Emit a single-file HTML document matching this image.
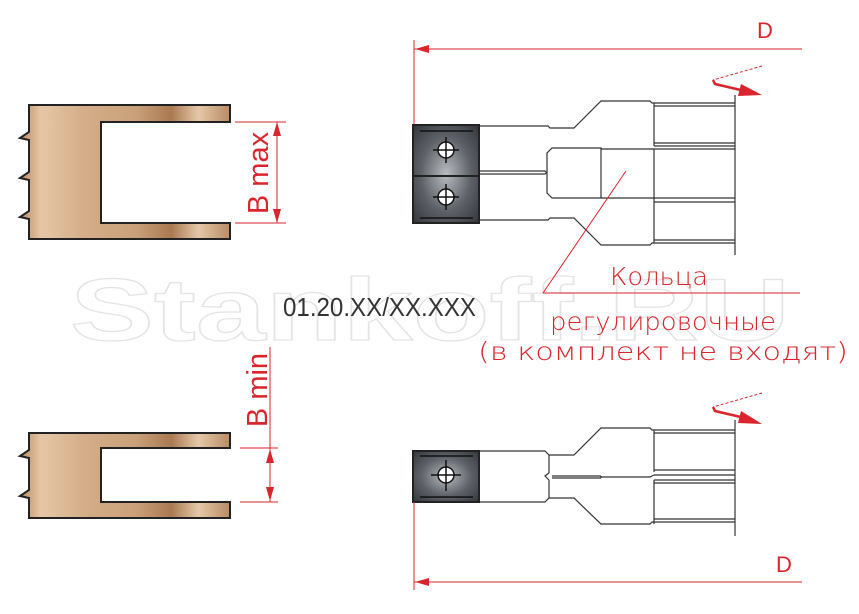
<!DOCTYPE html>
<html><head><meta charset="utf-8"><style>html,body{margin:0;padding:0;background:#fff}svg{display:block}</style></head>
<body>
<svg width="859" height="614" viewBox="0 0 859 614" xmlns="http://www.w3.org/2000/svg" font-family="Liberation Sans, DejaVu Sans, sans-serif">
<defs>
<linearGradient id="wood" x1="0" x2="1" y1="0" y2="0">
<stop offset="0" stop-color="#b98a62"/><stop offset="0.1" stop-color="#e6c7a6"/><stop offset="0.3" stop-color="#d4ae88"/><stop offset="0.55" stop-color="#c9a07a"/><stop offset="0.72" stop-color="#aa7a52"/><stop offset="0.85" stop-color="#e5c8a8"/><stop offset="1" stop-color="#b88b63"/>
</linearGradient>
<radialGradient id="ins" cx="0.5" cy="0.5" r="0.7">
<stop offset="0" stop-color="#b8bcc1"/><stop offset="0.55" stop-color="#5d6167"/><stop offset="1" stop-color="#33363b"/>
</radialGradient>
</defs>

<!-- watermark -->
<text x="70" y="340" font-size="88" font-weight="bold" fill="#fff" stroke="#e4e4e4" stroke-width="1.2" textLength="720" lengthAdjust="spacingAndGlyphs">Stankoff.RU</text>

<!-- top workpiece -->
<path d="M29,105 L230,105 L230,122 L101,122 L101,223 L230,223 L230,239 L29,239 L29,219 L20,217 L29,211 L29,180 L20,178 L29,172 L29,140 L20,138 L29,132 Z" fill="url(#wood)" stroke="#222" stroke-width="2"/>
<!-- B max -->
<g stroke="#d9252b" stroke-width="1" fill="none">
<line x1="235" y1="122" x2="286" y2="122"/><line x1="235" y1="223" x2="286" y2="223"/>
<line x1="277" y1="122" x2="277" y2="223"/>
</g>
<path d="M277,122 L273,136 L281,136 Z M277,223 L273,209 L281,209 Z" fill="#d9252b"/>
<text transform="translate(268,173) rotate(-90)" text-anchor="middle" font-size="29" fill="#d9252b">B max</text>

<!-- bottom workpiece -->
<path d="M29,433 L230,433 L230,448 L101,448 L101,502 L230,502 L230,518 L29,518 L29,498 L20,496 L29,490 L29,458 L20,456 L29,450 Z" fill="url(#wood)" stroke="#222" stroke-width="2"/>
<g stroke="#d9252b" stroke-width="1" fill="none">
<line x1="240" y1="448" x2="278" y2="448"/><line x1="240" y1="502" x2="278" y2="502"/>
<line x1="270" y1="347" x2="270" y2="502"/>
</g>
<path d="M270,449 L266,463 L274,463 Z M270,501 L266,487 L274,487 Z" fill="#d9252b"/>
<text transform="translate(267,390) rotate(-90)" text-anchor="middle" font-size="29" fill="#d9252b">B min</text>

<text x="283" y="316" font-size="26" fill="#333" textLength="193" lengthAdjust="spacingAndGlyphs">01.20.XX/XX.XXX</text>

<!-- top D -->
<g stroke="#d9252b" stroke-width="1" fill="none">
<line x1="414" y1="40" x2="414" y2="125"/><line x1="414" y1="49" x2="802" y2="49"/>
</g>
<path d="M415,49 L429,45 L429,53 Z" fill="#d9252b"/>
<text x="757" y="38" font-size="22" fill="#d9252b">D</text>

<!-- top cutter body -->
<g stroke="#333" stroke-width="1.2" fill="none">
<path d="M479,126 L548,126 L550,128 L574,128 L601,101 L650,101 L652,103 L735,103"/>
<line x1="654" y1="106" x2="735" y2="106"/>
<line x1="654" y1="103" x2="654" y2="146"/>
<line x1="654" y1="143" x2="735" y2="143"/><line x1="654" y1="146" x2="735" y2="146"/>
<path d="M479,171 L545,171 L547,173 M479,174 L545,174 L547,172"/>
<path d="M552,148 L601,148 L601,198 L552,198 L547,193 L547,153 Z"/>
<line x1="601" y1="149" x2="735" y2="149"/>
<line x1="654" y1="149" x2="654" y2="198"/>
<line x1="601" y1="198" x2="735" y2="198"/>
<line x1="654" y1="202" x2="735" y2="202"/>
<line x1="654" y1="198" x2="654" y2="243"/>
<path d="M479,220 L548,220 L550,218 L574,218 L601,245 L650,245 L652,243 L735,243"/>
<line x1="654" y1="240" x2="735" y2="240"/>
<line x1="735" y1="95" x2="735" y2="255"/>
</g>
<!-- top inserts -->
<rect x="413" y="125" width="66" height="98" fill="url(#ins)" stroke="#222" stroke-width="2"/>
<line x1="413" y1="176" x2="479" y2="176" stroke="#222" stroke-width="2"/>
<g stroke="#111" stroke-width="1.5">
<line x1="420" y1="131" x2="473" y2="131"/><line x1="420" y1="218" x2="473" y2="218"/>
<circle cx="446" cy="150" r="8" fill="#fff"/><line x1="433" y1="150" x2="459" y2="150"/><line x1="446" y1="137" x2="446" y2="163"/>
<circle cx="446" cy="197" r="8" fill="#fff"/><line x1="433" y1="197" x2="459" y2="197"/><line x1="446" y1="184" x2="446" y2="210"/>
</g>
<!-- top rotation arrow -->
<path d="M762,66 L713,80" stroke="#d9252b" stroke-width="1" stroke-dasharray="3,2" fill="none"/>
<path d="M713,80 L715,84 L745,91" stroke="#d9252b" stroke-width="2.5" fill="none"/>
<path d="M741,84 L762,95 L738,96 Z" fill="#d9252b"/>

<!-- leader & text -->
<g stroke="#d9252b" stroke-width="1" fill="none">
<line x1="626" y1="171" x2="543" y2="293"/><line x1="543" y1="293" x2="800" y2="293"/>
</g>
<g fill="#d9252b" font-size="25" font-family="DejaVu Sans, Liberation Sans, sans-serif" font-weight="200">
<text x="659" y="285" text-anchor="middle" textLength="98" lengthAdjust="spacingAndGlyphs">Кольца</text>
<text x="663" y="330" text-anchor="middle" textLength="226" lengthAdjust="spacingAndGlyphs">регулировочные</text>
<text x="663" y="360" text-anchor="middle" textLength="370" lengthAdjust="spacingAndGlyphs">(в комплект не входят)</text>
</g>

<!-- bottom cutter body -->
<g stroke="#333" stroke-width="1.2" fill="none">
<path d="M479,451 L545,451 L549,455 L549,473 M549,455 L574,455 L601,428 L650,428 L652,430 L735,430"/>
<line x1="654" y1="433" x2="735" y2="433"/>
<line x1="654" y1="430" x2="654" y2="472"/>
<line x1="654" y1="470" x2="735" y2="470"/><line x1="654" y1="475" x2="735" y2="475"/>
<path d="M549,473 L545,476 L549,480 M552,476 L601,476 M552,478 L601,478 M601,476 L601,478 M601,477 L650,477 L654,475"/>
<line x1="654" y1="480" x2="735" y2="480"/><line x1="654" y1="483" x2="735" y2="483"/>
<line x1="654" y1="480" x2="654" y2="524"/>
<path d="M479,502 L545,502 L549,498 L549,480 M549,498 L574,498 L601,524 L650,524 L652,522 L735,522"/>
<line x1="654" y1="519" x2="735" y2="519"/>
<line x1="735" y1="420" x2="735" y2="536"/>
</g>
<rect x="413" y="451" width="66" height="51" fill="url(#ins)" stroke="#222" stroke-width="2"/>
<g stroke="#111" stroke-width="1.5">
<line x1="420" y1="456" x2="473" y2="456"/><line x1="420" y1="497" x2="473" y2="497"/>
<circle cx="446" cy="475" r="8" fill="#fff"/><line x1="431" y1="475" x2="461" y2="475"/><line x1="446" y1="460" x2="446" y2="491"/>
</g>
<path d="M762,393 L713,407" stroke="#d9252b" stroke-width="1" stroke-dasharray="3,2" fill="none"/>
<path d="M713,407 L715,411 L745,418" stroke="#d9252b" stroke-width="2.5" fill="none"/>
<path d="M741,411 L762,424 L738,423 Z" fill="#d9252b"/>

<!-- bottom D -->
<g stroke="#d9252b" stroke-width="1" fill="none">
<line x1="414" y1="502" x2="414" y2="590"/><line x1="414" y1="582" x2="802" y2="582"/>
</g>
<path d="M415,582 L429,578 L429,586 Z" fill="#d9252b"/>
<text x="776" y="572" font-size="22" fill="#d9252b">D</text>
</svg>
</body></html>
